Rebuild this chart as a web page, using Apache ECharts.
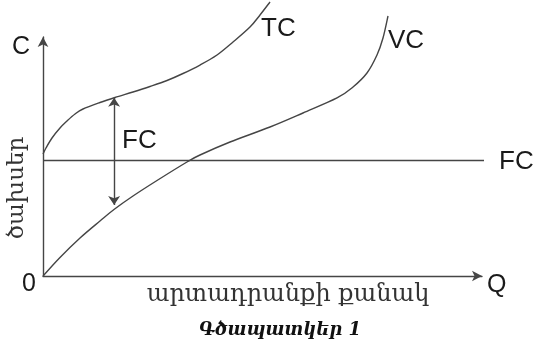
<!DOCTYPE html>
<html>
<head>
<meta charset="utf-8">
<script src="https://cdn.jsdelivr.net/npm/echarts@6/dist/echarts.min.js"></script>
<style>html,body{margin:0;padding:0;background:#fff;}#c{width:535px;height:342px;}</style>
</head>
<body>
<div id="c"></div>
<script>
// Values (x: output 0..100 axis units, y: cost 0..100 axis units)
const tcX = [0, 0.68, 2.05, 3.87, 5.47, 7.29, 9.11, 12.98, 16.40, 20.50, 24.37, 28.25, 31.89, 35.76, 39.64, 43.28, 47.15, 49.43, 51.71];
const tcY = [51.05, 53.56, 57.74, 61.92, 64.85, 67.78, 69.87, 72.59, 74.69, 76.99, 79.29, 81.80, 84.73, 88.28, 92.47, 97.91, 104.18, 109.21, 114.64];
const vcX = [0, 3.87, 8.43, 12.98, 16.17, 20.50, 25.97, 32.80, 35.76, 42.60, 51.71, 59.23, 66.97, 70.62, 73.80, 76.08, 77.45, 78.59];
const vcY = [0, 7.74, 15.90, 23.01, 27.82, 33.47, 39.96, 47.70, 50.63, 56.07, 62.34, 68.20, 74.48, 79.08, 84.94, 92.47, 99.58, 108.79];
const fcX = [0, 102.5];
const fcY = [48.3, 48.3];
const arrowX = 16.2;          // FC double arrow between TC and VC
const arrowTop = 74.6;
const arrowBottom = 29.7;
const labels = {
  yName: 'C', xName: 'Q', origin: '0',
  tc: 'TC', vc: 'VC', fc: 'FC',
  yTitle: 'ծախսեր', xTitle: 'արտադրանքի քանակ', caption: 'Գծապատկեր 1'
};

const lineColor = '#454545';
const sans = 'Liberation Sans';
const serif = 'DejaVu Serif';

// Smooth curve through the data points (Catmull-Rom), positioned via the axes
function curveSeries(xs, ys) {
  return {
    type: 'custom', coordinateSystem: 'cartesian2d', clip: false, silent: true,
    data: [[xs[0], ys[0]]],
    renderItem: function (params, api) {
      const p = xs.map((x, i) => api.coord([x, ys[i]]));
      let d = 'M' + p[0][0] + ' ' + p[0][1];
      for (let i = 0; i < p.length - 1; i++) {
        const p0 = p[i - 1] || p[i], p1 = p[i], p2 = p[i + 1], p3 = p[i + 2] || p[i + 1];
        const c1x = p1[0] + (p2[0] - p0[0]) / 6, c1y = p1[1] + (p2[1] - p0[1]) / 6;
        const c2x = p2[0] - (p3[0] - p1[0]) / 6, c2y = p2[1] - (p3[1] - p1[1]) / 6;
        d += ' C' + c1x + ' ' + c1y + ' ' + c2x + ' ' + c2y + ' ' + p2[0] + ' ' + p2[1];
      }
      return {type: 'path', shape: {pathData: d}, style: {stroke: lineColor, lineWidth: 1.4, fill: null}};
    }
  };
}

const chart = echarts.init(document.getElementById('c'), null, {renderer: 'canvas'});
chart.setOption({
  animation: false,
  backgroundColor: '#fff',
  grid: {left: 43, top: 37, width: 439, height: 239},
  xAxis: {
    type: 'value', min: 0, max: 100,
    axisLine: {show: true, lineStyle: {color: lineColor, width: 1.4}, symbol: ['none', 'arrow'], symbolSize: [8, 10]},
    axisTick: {show: false}, axisLabel: {show: false}, splitLine: {show: false}
  },
  yAxis: {
    type: 'value', min: 0, max: 100,
    axisLine: {show: true, lineStyle: {color: lineColor, width: 1.4}, symbol: ['none', 'arrow'], symbolSize: [8, 10]},
    axisTick: {show: false}, axisLabel: {show: false}, splitLine: {show: false}
  },
  series: [
    curveSeries(tcX, tcY),
    curveSeries(vcX, vcY),
    {type: 'line', data: fcX.map((x, i) => [x, fcY[i]]), showSymbol: false, clip: false,
     lineStyle: {color: lineColor, width: 1.4}},
    {type: 'lines', coordinateSystem: 'cartesian2d', symbol: ['arrow', 'arrow'], symbolSize: 9,
     lineStyle: {color: lineColor, width: 1.4, opacity: 1},
     data: [{coords: [[arrowX, arrowTop], [arrowX, arrowBottom]]}]}
  ],
  graphic: [
    {type: 'text', x: 21, y: 47, style: {text: labels.yName, font: '25px "' + sans + '"', fill: '#1a1a1a', align: 'center', verticalAlign: 'middle'}},
    {type: 'text', x: 29, y: 284, style: {text: labels.origin, font: '25px "' + sans + '"', fill: '#1a1a1a', align: 'center', verticalAlign: 'middle'}},
    {type: 'text', x: 487, y: 285, style: {text: labels.xName, font: '25px "' + sans + '"', fill: '#1a1a1a', align: 'left', verticalAlign: 'middle'}},
    {type: 'text', x: 261, y: 29, style: {text: labels.tc, font: '26px "' + sans + '"', fill: '#1a1a1a', align: 'left', verticalAlign: 'middle'}},
    {type: 'text', x: 388, y: 41, style: {text: labels.vc, font: '26px "' + sans + '"', fill: '#1a1a1a', align: 'left', verticalAlign: 'middle'}},
    {type: 'text', x: 499, y: 162, style: {text: labels.fc, font: '26px "' + sans + '"', fill: '#1a1a1a', align: 'left', verticalAlign: 'middle'}},
    {type: 'text', x: 122, y: 141, style: {text: labels.fc, font: '26px "' + sans + '"', fill: '#1a1a1a', align: 'left', verticalAlign: 'middle'}},
    {type: 'text', x: 17, y: 188, rotation: Math.PI / 2, style: {text: labels.yTitle, font: '23px "' + serif + '"', fill: '#333', align: 'center', verticalAlign: 'middle'}},
    {type: 'text', x: 288, y: 295, style: {text: labels.xTitle, font: '24px "' + serif + '"', fill: '#333', align: 'center', verticalAlign: 'middle'}},
    {type: 'text', x: 280, y: 330, style: {text: labels.caption, font: 'italic bold 18px "' + serif + '"', fill: '#111', align: 'center', verticalAlign: 'middle'}}
  ]
});
</script>
</body>
</html>
